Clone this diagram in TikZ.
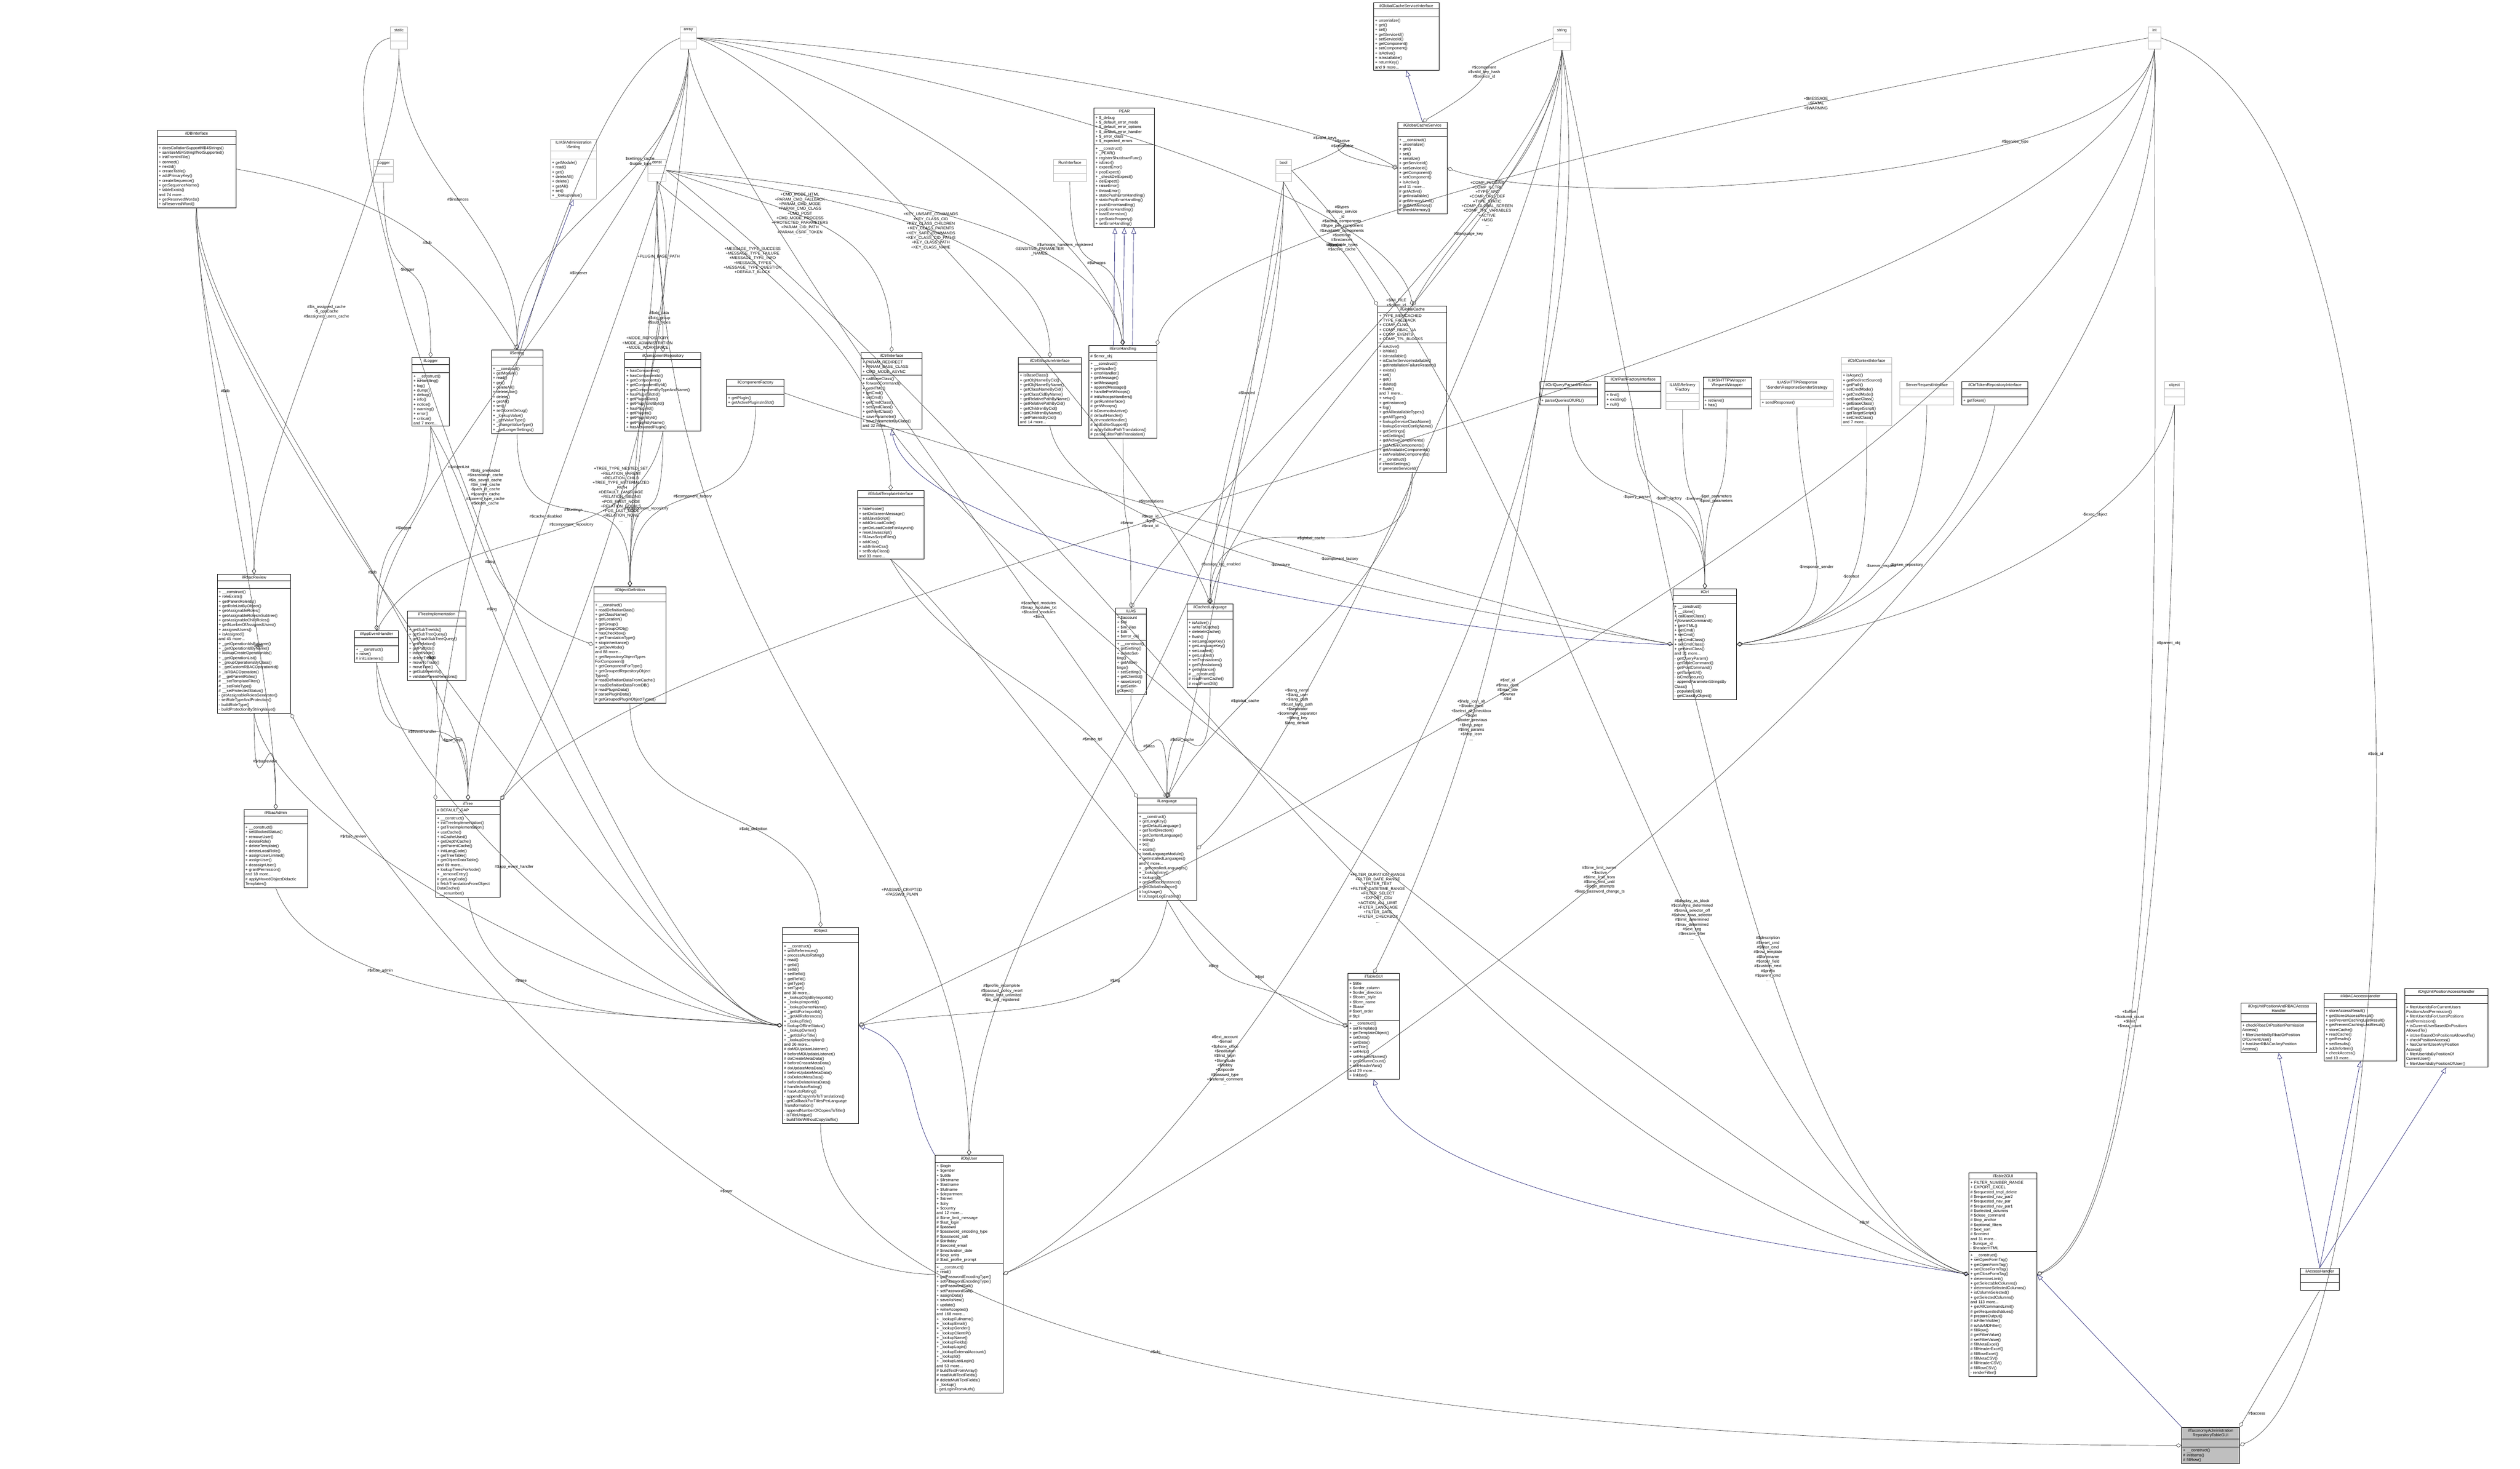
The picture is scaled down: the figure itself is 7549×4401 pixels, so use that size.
\documentclass[tikz,border=0pt]{standalone}
\usepackage{fontspec}
\setmainfont{Liberation Sans}
\usepackage{tikz}
\usetikzlibrary{arrows.meta,positioning,shapes.multipart}
\definecolor{inhblue}{HTML}{191970}
\definecolor{focusgray}{HTML}{BFBFBF}
\newcommand{\umlfont}{\fontsize{3.4}{4}\selectfont}
\tikzset{
  cls/.style={rectangle split, rectangle split parts=3, draw=black, line width=0.4pt,
    anchor=north, inner sep=1.2pt, align=left, font=\umlfont, fill=white},
  prim/.style={cls, draw=gray!60},
  focus/.style={cls, fill=focusgray},
  agg/.style={draw=black!75, line width=0.3pt, distance=4cm, -{Diamond[open,length=5pt,width=3.5pt]}},
  inh/.style={draw=inhblue, line width=0.3pt, distance=4cm, -{Triangle[open,length=5pt,width=4pt]}},
  lbl/.style={font=\umlfont, align=center, inner sep=0.5pt},
  dn/.style={out=-90,in=90}
}
% \umlbox{style}{name}{cx}{top}{width}{title}{attributes}{methods}
\newcommand{\umlbox}[8]{%
  \pgfmathsetlengthmacro{\bw}{#5*0.01cm-2.4pt}%
  \node[#1, text width=\bw] (#2) at (#3,#4)
    {{\centering #6\par}\nodepart{two}\strut#7\nodepart{three}\strut#8};}

\begin{document}
\begin{tikzpicture}[x=0.01cm,y=-0.01cm]
\useasboundingbox[fill=white] (0,0) rectangle (7549,4401);

% plain types
\umlbox{prim}{static}{1195}{80}{51}{static}{}{}
\umlbox{prim}{array}{2062}{80}{48}{array}{}{}
\umlbox{prim}{string}{4679}{80}{52}{string}{}{}
\umlbox{prim}{int}{6454}{80}{38}{int}{}{}
\umlbox{prim}{Logger}{1149}{477}{58}{Logger}{}{}
\umlbox{prim}{const}{1968}{477}{55}{const}{}{}
\umlbox{prim}{RunInterface}{3205}{477}{98}{RunInterface}{}{}
\umlbox{prim}{bool}{3845}{477}{47}{bool}{}{}
\umlbox{prim}{object}{6514}{1143}{60}{object}{}{}
\umlbox{prim}{ServerRequest}{5772}{1143}{161}{ServerRequestInterface}{}{}

% top row classes
\umlbox{cls}{CacheServiceIf}{4213}{7}{196}{ilGlobalCacheServiceInterface}{}{+ unserialize()\\+ get()\\+ set()\\+ getServiceId()\\+ setServiceId()\\+ getComponent()\\+ setComponent()\\+ isActive()\\+ isInstallable()\\+ returnKey()\\and 9 more...}
\umlbox{cls}{DBInterface}{589}{389}{236}{ilDBInterface}{}{+ doesCollationSupportMB4Strings()\\+ sanitizeMB4StringIfNotSupported()\\+ initFromIniFile()\\+ connect()\\+ nextId()\\+ createTable()\\+ addPrimaryKey()\\+ createSequence()\\+ getSequenceName()\\+ tableExists()\\and 74 more...\\+ getReservedWords()\\+ isReservedWord()}
\umlbox{prim}{AdminSetting}{1718}{417}{138}{ILIAS\textbackslash Administration\\\textbackslash Setting}{}{+ getModule()\\+ read()\\+ get()\\+ deleteAll()\\+ delete()\\+ getAll()\\+ set()\\+ \_lookupValue()}
\umlbox{cls}{PEAR}{3368}{323}{181}{PEAR}{+ \$\_debug\\+ \$\_default\_error\_mode\\+ \$\_default\_error\_options\\+ \$\_default\_error\_handler\\+ \$\_error\_class\\+ \$\_expected\_errors}{+ \_\_construct()\\+ \_PEAR()\\+ registerShutdownFunc()\\+ isError()\\+ expectError()\\+ popExpect()\\+ \_checkDelExpect()\\+ delExpect()\\+ raiseError()\\+ throwError()\\+ staticPushErrorHandling()\\+ staticPopErrorHandling()\\+ pushErrorHandling()\\+ popErrorHandling()\\+ loadExtension()\\+ getStaticProperty()\\+ setErrorHandling()}
\umlbox{cls}{CacheService}{4261}{365}{148}{ilGlobalCacheService}{}{+ \_\_construct()\\+ unserialize()\\+ get()\\+ set()\\+ serialize()\\+ getServiceId()\\+ setServiceId()\\+ getComponent()\\+ setComponent()\\+ isActive()\\and 11 more...\\\# getActive()\\\# getInstallable()\\\# getMemoryLimit()\\\# getMinMemory()\\\# checkMemory()}

% second row
\umlbox{cls}{ilLogger}{1290}{1071}{111}{ilLogger}{}{+ \_\_construct()\\+ isHandling()\\+ log()\\+ dump()\\+ debug()\\+ info()\\+ notice()\\+ warning()\\+ error()\\+ critical()\\and 7 more...}
\umlbox{cls}{ilSetting}{1549}{1048}{154}{ilSetting}{}{+ \_\_construct()\\+ getModule()\\+ read()\\+ get()\\+ deleteAll()\\+ deleteLike()\\+ delete()\\+ getAll()\\+ set()\\+ setScormDebug()\\+ \_lookupValue()\\+ \_getValueType()\\+ \_changeValueType()\\+ \_getLongerSettings()}
\umlbox{cls}{CompRepo}{1986}{1055}{228}{ilComponentRepository}{}{+ hasComponent()\\+ hasComponentId()\\+ getComponents()\\+ getComponentById()\\+ getComponentByTypeAndName()\\+ hasPluginSlotId()\\+ getPluginSlots()\\+ getPluginSlotById()\\+ hasPluginId()\\+ getPlugins()\\+ getPluginById()\\+ getPluginByName()\\+ hasActivatedPlugin()}
\umlbox{cls}{CompFactory}{2263}{1136}{172}{ilComponentFactory}{}{+ getPlugin()\\+ getActivePluginsInSlot()}
\umlbox{cls}{CtrlIf}{2671}{1055}{182}{ilCtrlInterface}{+ PARAM\_REDIRECT\\+ PARAM\_BASE\_CLASS\\+ CMD\_MODE\_ASYNC}{+ callBaseClass()\\+ forwardCommand()\\+ getHTML()\\+ getCmd()\\+ setCmd()\\+ getCmdClass()\\+ setCmdClass()\\+ getNextClass()\\+ saveParameter()\\+ saveParameterByClass()\\and 32 more...}
\umlbox{cls}{CtrlStruct}{3145}{1071}{188}{ilCtrlStructureInterface}{}{+ isBaseClass()\\+ getObjNameByCid()\\+ getObjNameByName()\\+ getClassNameByCid()\\+ getClassCidByName()\\+ getRelativePathByName()\\+ getRelativePathByCid()\\+ getChildrenByCid()\\+ getChildrenByName()\\+ getParentsByCid()\\and 14 more...}
\umlbox{cls}{ErrHandling}{3364}{1034}{203}{ilErrorHandling}{\# \$error\_obj}{+ \_\_construct()\\+ getHandler()\\+ errorHandler()\\+ getMessage()\\+ setMessage()\\+ appendMessage()\\+ handlePreWhoops()\\\# initWhoopsHandlers()\\\# getRunInterface()\\\# getWhoops()\\\# isDevmodeActive()\\\# defaultHandler()\\\# devmodeHandler()\\\# addEditorSupport()\\\# applyEditorPathTranslations()\\\# parseEditorPathTranslation()}
\umlbox{cls}{GlobalCache}{4231}{916}{207}{ilGlobalCache}{+ TYPE\_MEMCACHED\\+ TYPE\_FALLBACK\\+ COMP\_CLNG\\+ COMP\_RBAC\_UA\\+ COMP\_EVENTS\\+ COMP\_TPL\_BLOCKS}{+ isActive()\\+ isValid()\\+ isInstallable()\\+ isCacheServiceInstallable()\\+ getInstallationFailureReason()\\+ exists()\\+ set()\\+ get()\\+ delete()\\+ flush()\\and 7 more...\\+ setup()\\+ getInstance()\\+ log()\\+ getAllInstallableTypes()\\+ getAllTypes()\\+ lookupServiceClassName()\\+ lookupServiceConfigName()\\+ getSettings()\\+ setSettings()\\+ getActiveComponents()\\+ setActiveComponents()\\+ getAvailableComponents()\\+ setAvailableComponents()\\\# \_\_construct()\\\# checkSettings()\\\# generateServiceId()}
\umlbox{cls}{QueryParser}{4699}{1143}{172}{ilCtrlQueryParserInterface}{}{+ parseQueriesOfURL()}
\umlbox{cls}{PathFactory}{4892}{1127}{167}{ilCtrlPathFactoryInterface}{}{+ find()\\+ existing()\\+ null()}
\umlbox{prim}{Refinery}{5040}{1143}{100}{ILIAS\textbackslash Refinery\\\textbackslash Factory}{}{}
\umlbox{cls}{ReqWrapper}{5174}{1129}{145}{ILIAS\textbackslash HTTP\textbackslash Wrapper\\\textbackslash RequestWrapper}{}{+ retrieve()\\+ has()}
\umlbox{prim}{RespSender}{5383}{1136}{219}{ILIAS\textbackslash HTTP\textbackslash Response\\\textbackslash Sender\textbackslash ResponseSenderStrategy}{}{+ sendResponse()}
\umlbox{prim}{CtrlContext}{5592}{1071}{151}{ilCtrlContextInterface}{}{+ isAsync()\\+ getRedirectSource()\\+ getPath()\\+ setCmdMode()\\+ getCmdMode()\\+ setBaseClass()\\+ getBaseClass()\\+ setTargetScript()\\+ getTargetScript()\\+ setCmdClass()\\and 7 more...}
\umlbox{cls}{TokenRepo}{5976}{1143}{198}{ilCtrlTokenRepositoryInterface}{}{+ getToken()}
\umlbox{cls}{GlobalTpl}{2668}{1469}{199}{ilGlobalTemplateInterface}{}{+ hideFooter()\\+ setOnScreenMessage()\\+ addJavaScript()\\+ addOnLoadCode()\\+ getOnLoadCodeForAsynch()\\+ resetJavascript()\\+ fillJavaScriptFiles()\\+ addCss()\\+ addInlineCss()\\+ setBodyClass()\\and 33 more...}

% third row
\umlbox{cls}{RbacReview}{761}{1720}{220}{ilRbacReview}{}{+ \_\_construct()\\+ roleExists()\\+ getParentRoleIds()\\+ getRoleListByObject()\\+ getAssignableRoles()\\+ getAssignableRolesInSubtree()\\+ getAssignableChildRoles()\\+ getNumberOfAssignedUsers()\\+ assignedUsers()\\+ isAssigned()\\and 45 more...\\+ \_getOperationIdsByName()\\+ \_getOperationIdByName()\\+ lookupCreateOperationIds()\\+ \_getOperationList()\\+ \_groupOperationsByClass()\\+ \_getCustomRBACOperationId()\\+ \_isRBACOperation()\\\# \_\_getParentRoles()\\\# \_\_setTemplateFilter()\\\# \_\_setRoleType()\\\# \_\_setProtectedStatus()\\- getAssignableRolesGenerator()\\- setRoleTypeAndProtection()\\- buildRoleType()\\- buildProtectionByStringValue()}
\umlbox{cls}{EventHandler}{1128}{1889}{132}{ilAppEventHandler}{}{+ \_\_construct()\\+ raise()\\\# initListeners()}
\umlbox{cls}{TreeImpl}{1308}{1830}{174}{ilTreeImplementation}{}{+ getSubTreeIds()\\+ getSubTreeQuery()\\+ getTrashSubTreeQuery()\\+ getRelation()\\+ getPathIds()\\+ insertNode()\\+ deleteTree()\\+ moveToTrash()\\+ moveTree()\\+ getSubtreeInfo()\\+ validateParentRelations()}
\umlbox{cls}{ObjDef}{1887}{1757}{217}{ilObjectDefinition}{}{+ \_\_construct()\\+ readDefinitionData()\\+ getClassName()\\+ getLocation()\\+ getGroup()\\+ getGroupOfObj()\\+ hasCheckbox()\\+ getTranslationType()\\+ stopInheritance()\\+ getDevMode()\\and 88 more...\\+ getRepositoryObjectTypes\\ForComponent()\\+ getComponentForType()\\+ getGroupedRepositoryObject\\Types()\\\# readDefinitionDataFromCache()\\\# readDefinitionDataFromDB()\\\# readPluginData()\\\# parsePluginData()\\\# getGroupedPluginObjectTypes()}
\umlbox{cls}{ILIAS}{3388}{1821}{92}{ILIAS}{+ \$account\\+ \$ini\\+ \$ini\_ilias\\+ \$db\\+ \$error\_obj}{+ \_\_construct()\\+ getSetting()\\+ deleteSetting()\\+ getAllSettings()\\+ setSetting()\\+ getClientId()\\+ raiseError()\\\# getSettingObject()}
\umlbox{cls}{CachedLang}{3625}{1809}{137}{ilCachedLanguage}{}{+ isActive()\\+ writeToCache()\\+ deleteInCache()\\+ flush()\\+ setLanguageKey()\\+ getLanguageKey()\\+ setLoaded()\\+ getLoaded()\\+ setTranslations()\\+ getTranslations()\\+ getInstance()\\\# \_\_construct()\\\# readFromCache()\\\# readFromDB()}
\umlbox{cls}{ilCtrl}{5107}{1764}{190}{ilCtrl}{}{+ \_\_construct()\\+ \_\_clone()\\+ callBaseClass()\\+ forwardCommand()\\+ getHTML()\\+ getCmd()\\+ setCmd()\\+ getCmdClass()\\+ setCmdClass()\\+ getNextClass()\\and 31 more...\\- getQueryParam()\\- getTableCommand()\\- getPostCommand()\\- getTargetUrl()\\- isCmdSecure()\\- appendParameterStringsBy\\Class()\\- populateCall()\\- getClassByObject()}

% lower rows
\umlbox{cls}{ilLanguage}{3496}{2390}{177}{ilLanguage}{}{+ \_\_construct()\\+ getLangKey()\\+ getDefaultLanguage()\\+ getTextDirection()\\+ getContentLanguage()\\+ txtlng()\\+ txt()\\+ exists()\\+ loadLanguageModule()\\+ getInstalledLanguages()\\and 7 more...\\+ \_getInstalledLanguages()\\+ \_lookupEntry()\\+ lookupId()\\+ getFallbackInstance()\\+ getGlobalInstance()\\\# logUsage()\\\# isUsageLogEnabled()}
\umlbox{cls}{RbacAdmin}{826}{2425}{190}{ilRbacAdmin}{}{+ \_\_construct()\\+ setBlockedStatus()\\+ removeUser()\\+ deleteRole()\\+ deleteTemplate()\\+ deleteLocalRole()\\+ assignUserLimited()\\+ assignUser()\\+ deassignUser()\\+ grantPermission()\\and 18 more...\\\# applyMovedObjectDidactic\\Templates()}
\umlbox{cls}{ilTree}{1402}{2397}{194}{ilTree}{\# DEFAULT\_GAP}{+ \_\_construct()\\+ initTreeImplementation()\\+ getTreeImplementation()\\+ useCache()\\+ isCacheUsed()\\+ getDepthCache()\\+ getParentCache()\\+ initLangCode()\\+ getTreeTable()\\+ getObjectDataTable()\\and 69 more...\\+ lookupTreesForNode()\\+ \_removeEntry()\\\# getLangCode()\\\# fetchTranslationFromObject\\DataCache()\\- \_\_renumber()}
\umlbox{cls}{ilObject}{2458}{2778}{227}{ilObject}{}{+ \_\_construct()\\+ withReferences()\\+ processAutoRating()\\+ read()\\+ getId()\\+ setId()\\+ setRefId()\\+ getRefId()\\+ getType()\\+ setType()\\and 38 more...\\+ \_lookupObjIdByImportId()\\+ \_lookupImportId()\\+ \_lookupOwnerName()\\+ \_getIdForImportId()\\+ \_getAllReferences()\\+ \_lookupTitle()\\+ lookupOfflineStatus()\\+ \_lookupOwner()\\+ \_getIdsForTitle()\\+ \_lookupDescription()\\and 26 more...\\\# doMDUpdateListener()\\\# beforeMDUpdateListener()\\\# doCreateMetaData()\\\# beforeCreateMetaData()\\\# doUpdateMetaData()\\\# beforeUpdateMetaData()\\\# doDeleteMetaData()\\\# beforeDeleteMetaData()\\\# handleAutoRating()\\\# hasAutoRating()\\- appendCopyInfoToTranslations()\\- getCallbackForTitlesPerLanguage\\Transformation()\\- appendNumberOfCopiesToTitle()\\- isTitleUnique()\\- buildTitleWithoutCopySuffix()}
\umlbox{cls}{TableGUI}{4115}{2916}{154}{ilTableGUI}{+ \$title\\+ \$order\_column\\+ \$order\_direction\\+ \$footer\_style\\+ \$form\_name\\+ \$base\\\# \$sort\_order\\\# \$tpl}{+ \_\_construct()\\+ setTemplate()\\+ getTemplateObject()\\+ setData()\\+ getData()\\+ setTitle()\\+ setHelp()\\+ setHeaderNames()\\+ getColumnCount()\\+ setHeaderVars()\\and 29 more...\\+ linkbar()}
\umlbox{cls}{PosRbacHandler}{6826}{3004}{226}{ilOrgUnitPositionAndRBACAccess\\Handler}{}{+ checkRbacOrPositionPermission\\Access()\\+ filterUserIdsByRbacOrPosition\\OfCurrentUser()\\+ hasUserRBACorAnyPosition\\Access()}
\umlbox{cls}{RbacHandler}{7071}{2975}{217}{ilRBACAccessHandler}{}{+ storeAccessResult()\\+ getStoredAccessResult()\\+ setPreventCachingLastResult()\\+ getPreventCachingLastResult()\\+ storeCache()\\+ readCache()\\+ getResults()\\+ setResults()\\+ addInfoItem()\\+ checkAccess()\\and 13 more...}
\umlbox{cls}{PosHandler}{7328}{2961}{249}{ilOrgUnitPositionAccessHandler}{}{+ filterUserIdsForCurrentUsers\\PositionsAndPermission()\\+ filterUserIdsForUsersPositions\\AndPermission()\\+ isCurrentUserBasedOnPositions\\AllowedTo()\\+ isUserBasedOnPositionsAllowedTo()\\+ checkPositionAccess()\\+ hasCurrentUserAnyPosition\\Access()\\+ filterUserIdsByPositionOf\\CurrentUser()\\+ filterUserIdsByPositionOfUser()}
\umlbox{cls}{ObjUser}{2903}{3461}{203}{ilObjUser}{+ \$login\\+ \$gender\\+ \$utitle\\+ \$firstname\\+ \$lastname\\+ \$fullname\\+ \$department\\+ \$street\\+ \$city\\+ \$country\\and 12 more...\\\# \$time\_limit\_message\\\# \$last\_login\\\# \$passwd\\\# \$password\_encoding\_type\\\# \$password\_salt\\\# \$birthday\\\# \$second\_email\\\# \$inactivation\_date\\\# \$exp\_units\\\# \$last\_profile\_prompt}{+ \_\_construct()\\+ read()\\+ getPasswordEncodingType()\\+ setPasswordEncodingType()\\+ getPasswordSalt()\\+ setPasswordSalt()\\+ assignData()\\+ saveAsNew()\\+ update()\\+ writeAccepted()\\and 168 more...\\+ \_lookupFullname()\\+ \_lookupEmail()\\+ \_lookupGender()\\+ \_lookupClientIP()\\+ \_lookupName()\\+ \_lookupFields()\\+ \_lookupLogin()\\+ \_lookupExternalAccount()\\+ \_lookupId()\\+ \_lookupLastLogin()\\and 53 more...\\\# buildTextFromArray()\\\# readMultiTextFields()\\\# deleteMultiTextFields()\\- \_lookup()\\- getLoginFromAuth()}
\umlbox{cls}{Table2GUI}{6000}{3513}{203}{ilTable2GUI}{+ FILTER\_NUMBER\_RANGE\\+ EXPORT\_EXCEL\\\# \$requested\_tmpl\_delete\\\# \$requested\_nav\_par2\\\# \$requested\_nav\_par\\\# \$requested\_nav\_par1\\\# \$selected\_columns\\\# \$close\_command\\\# \$top\_anchor\\\# \$optional\_filters\\\# \$ext\_sort\\\# \$context\\and 31 more...\\- \$unique\_id\\- \$headerHTML}{+ \_\_construct()\\+ setOpenFormTag()\\+ getOpenFormTag()\\+ setCloseFormTag()\\+ getCloseFormTag()\\+ determineLimit()\\+ getSelectableColumns()\\+ determineSelectedColumns()\\+ isColumnSelected()\\+ getSelectedColumns()\\and 113 more...\\+ getAllCommandLimit()\\\# getRequestedValues()\\\# prepareOutput()\\\# isFilterVisible()\\\# isAdvMDFilter()\\\# fillRow()\\\# getFilterValue()\\\# setFilterValue()\\\# fillMetaExcel()\\\# fillHeaderExcel()\\\# fillRowExcel()\\\# fillMetaCSV()\\\# fillHeaderCSV()\\\# fillRowCSV()\\- renderFilter()}
\umlbox{cls}{AccessHandler}{6949}{3798}{116}{ilAccessHandler}{}{}
\umlbox{focus}{TaxTable}{6622}{4275}{173}{ilTaxonomyAdministration\\RepositoryTableGUI}{}{+ \_\_construct()\\\# initItems()\\\# fillRow()}

% inheritance
\draw[inh] (ilSetting.north) -- (AdminSetting.south);
\draw[inh] (CacheService.north) -- (CacheServiceIf.south);
\foreach \d in {-8,0,8} \draw[inh] ([xshift=\d]ErrHandling.north) -- ([xshift=\d]PEAR.south);
\draw[inh] (ilCtrl.west) to[out=180,in=-80] (CtrlIf.south);
\draw[inh] (ObjUser.north west) to[out=120,in=-20,distance=2cm] (ilObject.east);
\draw[inh] (Table2GUI.west) to[out=170,in=-70] (TableGUI.south);
\draw[inh] (TaxTable.north west) -- (Table2GUI.east);
\draw[inh] (AccessHandler.north) -- (PosRbacHandler.south);
\draw[inh] (AccessHandler.north) -- (RbacHandler.south);
\draw[inh] (AccessHandler.north) -- (PosHandler.south);

% members
\draw[agg] (static.south) to[dn] node[lbl]{\#\$is\_assigned\_cache\\-\$\_opsCache\\\#\$assigned\_users\_cache} (RbacReview.north);
\draw[agg] (static.west) to[out=190,in=180] node[lbl,pos=0.45]{+\$objectList} (ilObject.west);
\draw[agg] (static.south) to[dn] node[lbl]{\#\$instances} (ilSetting.north);
\draw[agg] (array.south) to[dn] node[lbl,pos=0.35]{\$settings\_cache\\-\$value\_type} (ilSetting.north);
\draw[agg] (array.south) to[dn] node[lbl]{\#\$obj\_data\\\#\$obj\_group\\\#\$sub\_types} (ObjDef.north);
\draw[agg] (array.south) to[dn] node[lbl,pos=0.4]{\#\$listener} (EventHandler.north);
\draw[agg] (array.south) to[dn] node[lbl,pos=0.6]{\#\$cache\_disabled} (ilTree.north);
\draw[agg] (array.west) to[out=200,in=90] node[lbl,pos=0.6]{\#\$obj\_preloaded\\\#\$translation\_cache\\\#\$is\_saved\_cache\\\#\$in\_tree\_cache\\-\$path\_id\_cache\\\#\$parent\_cache\\\#\$parent\_type\_cache\\\#\$depth\_cache} (ilTree.north west);
\draw[agg] (Logger.south) to[dn] node[lbl]{-\$logger} (ilLogger.north);
\draw[agg] (DBInterface.south) to[dn] node[lbl]{\#\$db} (RbacReview.north);
\draw[agg] (DBInterface.south) to[dn] node[lbl,pos=0.7]{\#\$db} (RbacAdmin.north);
\draw[agg] (DBInterface.south) to[dn] node[lbl,pos=0.6]{\#\$db} (ilTree.north);
\draw[agg] (DBInterface.south) to[out=-100,in=170] node[lbl,pos=0.5]{\#\$db} (ilObject.west);
\draw[agg] (DBInterface.east) to[out=-10,in=120] node[lbl,pos=0.6]{\#\$db} (ilSetting.north);
\draw[agg] (ilLogger.south) to[dn] node[lbl]{\#\$logger} (EventHandler.north);
\draw[agg] (ilLogger.south) to[out=-80,in=170] node[lbl,pos=0.3]{\#\$log} (ilObject.west);
\draw[agg] (ilLogger.south) to[out=-60,in=160] node[lbl,pos=0.5]{\#\$log} (ObjDef.west);
\draw[agg] (ilSetting.south) to[dn] node[lbl]{\#\$settings} (ObjDef.north);
\draw[agg] (CompRepo.south) to[dn] node[lbl]{\#\$component\_repository} (ObjDef.north);
\draw[agg] (CompRepo.south) to[out=-100,in=60] node[lbl,pos=0.4]{\#\$component\_repository} (EventHandler.north);
\draw[agg] (CompFactory.south) to[dn] node[lbl]{\#\$component\_factory} (ObjDef.north);
\draw[agg] (CompFactory.east) to[out=-20,in=170] node[lbl,pos=0.6]{-\$component\_factory} (ilCtrl.west);
\draw[agg] (const.south) to[dn] node[lbl,pos=0.4]{+MODE\_REPOSITORY\\+MODE\_ADMINISTRATION\\+MODE\_WORKSPACE} (ObjDef.north);
\draw[agg] (const.south) to[dn] node[lbl,pos=0.35]{+PLUGIN\_BASE\_PATH} (CompRepo.north);
\draw[agg] (const.south) to[out=-70,in=60] node[lbl,pos=0.5]{+TREE\_TYPE\_NESTED\_SET\\+RELATION\_PARENT\\+RELATION\_CHILD\\+TREE\_TYPE\_MATERIALIZED\\\_PATH\\\#DEFAULT\_LANGUAGE\\+RELATION\_SIBLING\\+POS\_FIRST\_NODE\\+RELATION\_EQUALS\\+POS\_LAST\_NODE\\+RELATION\_NONE\\...} (ilTree.north east);
\draw[agg] (const.south) to[out=-40,in=90] node[lbl,pos=0.3]{+MESSAGE\_TYPE\_SUCCESS\\+MESSAGE\_TYPE\_FAILURE\\+MESSAGE\_TYPE\_INFO\\+MESSAGE\_TYPES\\+MESSAGE\_TYPE\_QUESTION\\+DEFAULT\_BLOCK} (GlobalTpl.north);
\draw[agg] (const.east) to[out=-20,in=90] node[lbl,pos=0.4]{+CMD\_MODE\_HTML\\+PARAM\_CMD\_FALLBACK\\+PARAM\_CMD\_MODE\\+PARAM\_CMD\_CLASS\\+CMD\_POST\\+CMD\_MODE\_PROCESS\\+PROTECTED\_PARAMETERS\\+PARAM\_CID\_PATH\\+PARAM\_CSRF\_TOKEN\\...} (CtrlIf.north);
\draw[agg] (const.east) to[out=-10,in=90] node[lbl,pos=0.55]{+KEY\_UNSAFE\_COMMANDS\\+KEY\_CLASS\_CID\\+KEY\_CLASS\_CHILDREN\\+KEY\_CLASS\_PARENTS\\+KEY\_SAFE\_COMMANDS\\+KEY\_CLASS\_CID\_PATHS\\+KEY\_CLASS\_PATH\\+KEY\_CLASS\_NAME} (CtrlStruct.north);
\draw[agg] (const.east) to[out=-5,in=100] node[lbl,pos=0.7]{-SENSITIVE\_PARAMETER\\\_NAMES} (ErrHandling.north);
\draw[agg] (array.east) to[out=-10,in=100] node[lbl,pos=0.75]{\#\$whoops\_handlers\_registered} (ErrHandling.north);
\draw[agg] (RunInterface.south) to[dn] node[lbl]{\#\$whoops} (ErrHandling.north);
\draw[agg] (int.west) to[out=190,in=80] node[lbl,pos=0.35]{+\$MESSAGE\\+\$FATAL\\+\$WARNING} (ErrHandling.north east);
\draw[agg] (int.south) to[out=-100,in=-20] node[lbl,pos=0.3]{\#\$service\_type} (CacheService.east);
\draw[agg] (string.west) to[out=200,in=30] node[lbl,pos=0.5]{\#\$component\\\#\$valid\_key\_hash\\\#\$service\_id} (CacheService.north);
\draw[agg] (array.east) to[out=0,in=150] node[lbl,pos=0.85]{\#\$valid\_keys} (CacheService.west);
\draw[agg] (bool.east) to[out=20,in=170] node[lbl,pos=0.5]{\#\$active\\\#\$installable} (CacheService.west);
\draw[agg] (array.east) to[out=-5,in=100] node[lbl,pos=0.8]{\#\$types\\\#\$unique\_service\\\_id\\\#\$active\_components\\\#\$type\_per\_component\\\#\$available\_components\\\#\$settings\\\#\$instances\\\#\$available\_types\\\#\$active\_cache} (GlobalCache.north);
\draw[agg] (string.south) to[out=-100,in=60] node[lbl,pos=0.6]{+COMP\_PLUGINS\\+COMP\_ILCTRL\\+TYPE\_APC\\+COMP\_ORU\_DEF\\+TYPE\_STATIC\\+COMP\_GLOBAL\_SCREEN\\+COMP\_TPL\_VARIABLES\\+ACTIVE\\+MSG\\...} (GlobalCache.north);
\draw[agg] (bool.south) to[out=-60,in=120] node[lbl,pos=0.6]{\#\$active} (GlobalCache.north west);
\draw[agg] (GlobalCache.south) to[dn] node[lbl]{\#\$global\_cache} (CachedLang.north);
\draw[agg] (GlobalCache.south) to[out=-100,in=60] node[lbl,pos=0.7]{\#\$global\_cache} (ilLanguage.north);
\draw[agg] (string.south) to[out=-95,in=60] node[lbl,pos=0.45]{+\$INI\_FILE\\+\$client\_id} (ILIAS.north);
\draw[agg] (string.south) to[out=-90,in=80] node[lbl,pos=0.35]{\#\$language\_key} (CachedLang.north);
\draw[agg] (array.east) to[out=-20,in=110] node[lbl,pos=0.8]{\#\$translations} (CachedLang.north);
\draw[agg] (bool.south) to[dn] node[lbl,pos=0.5]{\#\$loaded} (CachedLang.north);
\draw[agg] (array.south) to[out=-80,in=120] node[lbl,pos=0.7]{\#\$cached\_modules\\\#\$map\_modules\_txt\\+\$loaded\_modules\\+\$text} (ilLanguage.north);
\draw[agg] (bool.south) to[out=-100,in=70] node[lbl,pos=0.6]{\#\$usage\_log\_enabled} (ilLanguage.north);
\draw[agg] (ErrHandling.south) to[dn] node[lbl]{\#\$error} (ILIAS.north);
\draw[agg] (ILIAS.south) to[dn] node[lbl]{\#\$ilias} (ilLanguage.north);
\draw[agg] (GlobalTpl.south) to[out=-60,in=120] node[lbl,pos=0.8]{\#\$main\_tpl} (ilLanguage.north west);
\draw[agg] (CachedLang.south) to[dn] node[lbl,pos=0.6]{\#\$use\_cache} (ilLanguage.north);
\draw[agg] (string.south) to[out=-90,in=40] node[lbl,pos=0.75]{+\$lang\_name\\+\$lang\_user\\+\$lang\_path\\\#\$cust\_lang\_path\\+\$separator\\+\$comment\_separator\\+\$lang\_key\\\$lang\_default} (ilLanguage.east);
\draw[agg] (CtrlStruct.south) to[out=-80,in=170] node[lbl,pos=0.45]{-\$structure} (ilCtrl.west);
\draw[agg] (QueryParser.south) to[dn] node[lbl]{-\$query\_parser} (ilCtrl.north);
\draw[agg] (PathFactory.south) to[dn] node[lbl]{-\$path\_factory} (ilCtrl.north);
\draw[agg] (Refinery.south) to[dn] node[lbl]{-\$refinery} (ilCtrl.north);
\draw[agg] (ReqWrapper.south) to[dn] node[lbl]{-\$get\_parameters\\-\$post\_parameters} (ilCtrl.north);
\draw[agg] (RespSender.south) to[out=-90,in=10] node[lbl]{-\$response\_sender} (ilCtrl.east);
\draw[agg] (CtrlContext.south) to[out=-90,in=10] node[lbl]{-\$context} (ilCtrl.east);
\draw[agg] (ServerRequest.south) to[out=-90,in=10] node[lbl]{-\$server\_request} (ilCtrl.east);
\draw[agg] (TokenRepo.south) to[out=-100,in=10] node[lbl]{-\$token\_repository} (ilCtrl.east);
\draw[agg] (object.south) to[out=-100,in=0] node[lbl,pos=0.3]{-\$exec\_object} (ilCtrl.east);
\draw[agg] (object.south) to[out=-90,in=20] node[lbl,pos=0.3]{\#\$parent\_obj} (Table2GUI.east);
\draw[agg] (CtrlIf.south) to[out=-60,in=170] node[lbl,pos=0.85]{\#\$ctrl} (Table2GUI.west);
\draw[agg] (RbacReview.south) to[dn] node[lbl]{\#\$rbacreview} (RbacAdmin.north);
\draw[agg] (RbacReview.south) to[out=-80,in=175] node[lbl,pos=0.3]{\#\$rbac\_review} (ilObject.west);
\draw[agg] (RbacAdmin.south) to[out=-70,in=175] node[lbl,pos=0.3]{\#\$rbac\_admin} (ilObject.west);
\draw[agg] (EventHandler.south) to[dn] node[lbl]{\#\$eventHandler} (ilTree.north);
\draw[agg] (EventHandler.south) to[out=-80,in=175] node[lbl,pos=0.45]{\#\$app\_event\_handler} (ilObject.west);
\draw[agg] (TreeImpl.south) to[dn] node[lbl]{-\$tree\_impl} (ilTree.north);
\draw[agg] (ilTree.south) to[out=-80,in=175] node[lbl,pos=0.3]{\#\$tree} (ilObject.west);
\draw[agg] (ObjDef.south) to[dn] node[lbl,pos=0.6]{\#\$obj\_definition} (ilObject.north);
\draw[agg] (ilLanguage.south) to[out=-100,in=10] node[lbl,pos=0.3]{\#\$lng} (ilObject.east);
\draw[agg] (ilLanguage.south) to[out=-60,in=150] node[lbl,pos=0.3]{\#\$lng} (TableGUI.west);
\draw[agg] (GlobalTpl.south) to[out=-40,in=170] node[lbl,pos=0.8]{\#\$tpl} (TableGUI.west);
\draw[agg] (int.south) .. controls +(-200,900) and +(600,-700) .. node[lbl,pos=0.6]{\#\$tree\_id\\-\$gap\\\#\$root\_id} (ilTree.north east);
\draw[agg] (int.south) .. controls +(-100,1200) and +(800,-400) .. node[lbl,pos=0.55]{\#\$ref\_id\\\#\$max\_desc\\\#\$max\_title\\\#\$owner\\\#\$id} (ilObject.east);
\draw[agg] (int.south) .. controls +(0,1500) and +(400,-200) .. node[lbl,pos=0.65]{+\$offset\\+\$column\_count\\+\$limit\\+\$max\_count} (Table2GUI.east);
\draw[agg] (int.south) .. controls +(100,1500) and +(700,-300) .. node[lbl,pos=0.55]{\#\$time\_limit\_owner\\+\$active\\\#\$time\_limit\_from\\\#\$time\_limit\_until\\+\$login\_attempts\\+\$last\_password\_change\_ts} (ObjUser.east);
\draw[agg] (int.east) .. controls +(900,300) and +(500,-200) .. node[lbl,pos=0.5]{\#\$obj\_id} (TaxTable.east);
\draw[agg] (string.south) .. controls +(200,1500) and +(600,-300) .. node[lbl,pos=0.7]{\#\$ext\_account\\+\$email\\+\$phone\_office\\+\$institution\\\#\$first\_login\\+\$longitude\\+\$hobby\\+\$zipcode\\\#\$passwd\_type\\+\$referral\_comment\\...} (ObjUser.east);
\draw[agg] (string.south) .. controls +(300,1500) and +(-600,-200) .. node[lbl,pos=0.6]{\#\$description\\\#\$reset\_cmd\\\#\$filter\_cmd\\\#\$row\_template\\\#\$formname\\\#\$order\_field\\\#\$custom\_next\\\#\$prefix\\\#\$parent\_cmd\\...} (Table2GUI.west);
\draw[agg] (string.south) .. controls +(0,1200) and +(300,-600) .. node[lbl,pos=0.65]{+\$help\_icon\_alt\\+\$footer\_next\\+\$select\_all\_checkbox\\+\$icon\\+\$footer\_previous\\+\$help\_page\\\#\$link\_params\\+\$help\_icon\\...} (TableGUI.north);
\draw[agg] (bool.south) .. controls +(0,1300) and +(0,-800) .. node[lbl,pos=0.8]{\#\$profile\_incomplete\\\#\$passwd\_policy\_reset\\\#\$time\_limit\_unlimited\\-\$is\_self\_registered} (ObjUser.north);
\draw[agg] (bool.east) .. controls +(800,800) and +(-800,-300) .. node[lbl,pos=0.6]{\#\$display\_as\_block\\\#\$columns\_determined\\\#\$rows\_selector\_off\\\#\$show\_rows\_selector\\\#\$limit\_determined\\\#\$nav\_determined\\\#\$ext\_seg\\\#\$restore\_filter\\...} (Table2GUI.west);
\draw[agg] (const.south) .. controls +(0,1500) and +(0,-1000) .. node[lbl,pos=0.7]{+PASSWD\_CRYPTED\\+PASSWD\_PLAIN} (ObjUser.north);
\draw[agg] (const.east) .. controls +(1500,1200) and +(-1500,-300) .. node[lbl,pos=0.55]{+FILTER\_DURATION\_RANGE\\+FILTER\_DATE\_RANGE\\+FILTER\_TEXT\\+FILTER\_DATETIME\_RANGE\\+FILTER\_SELECT\\+EXPORT\_CSV\\+ACTION\_ALL\_LIMIT\\+FILTER\_LANGUAGE\\+FILTER\_DATE\\+FILTER\_CHECKBOX\\...} (Table2GUI.west);
\draw[agg] (ObjUser.west) .. controls +(-600,0) and +(300,600) .. node[lbl,pos=0.3]{\#\$user} (RbacReview.south east);
\draw[agg] (ilObject.south) .. controls +(0,800) and +(-1500,0) .. node[lbl,pos=0.4]{\#\$obj} (TaxTable.west);
\draw[agg] (AccessHandler.south) -- node[lbl,pos=0.9,right]{\#\$access} (TaxTable.north east);
\end{tikzpicture}
\end{document}
